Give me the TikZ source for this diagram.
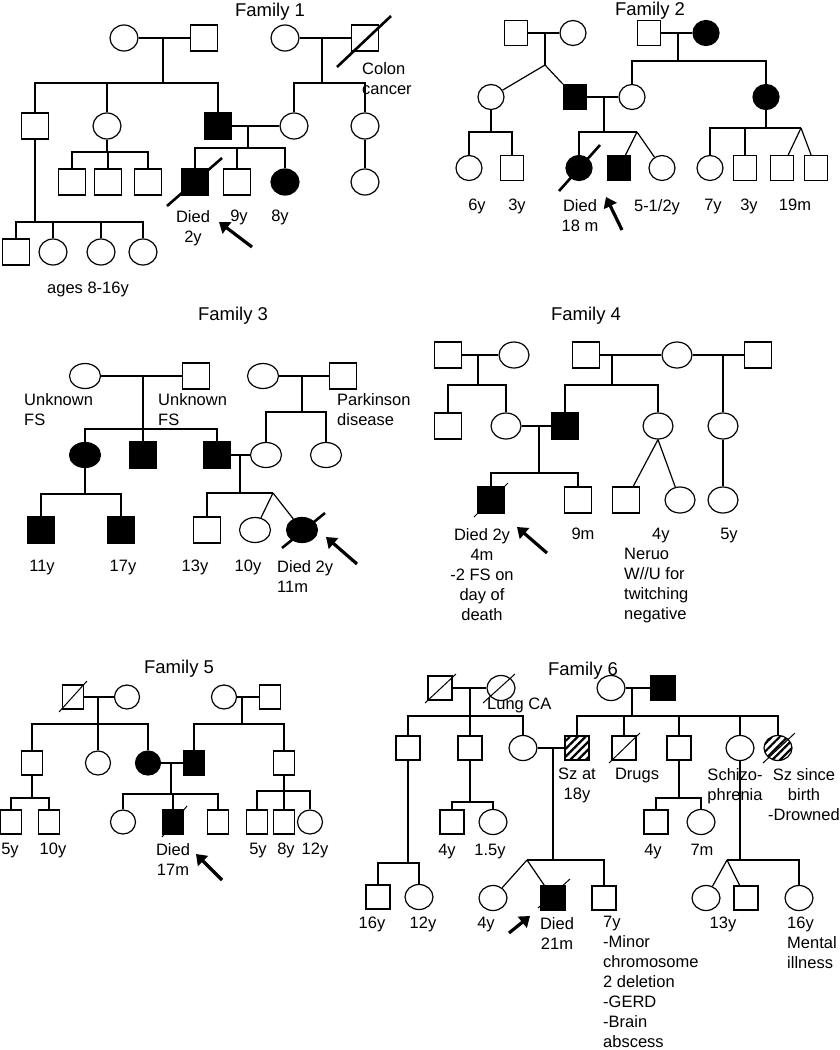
\documentclass[tikz,border=0pt]{standalone}
\usepackage{fontspec}
\setmainfont{Liberation Sans}
\usepackage{tikz}
\usetikzlibrary{shapes,calc,arrows.meta,patterns.meta}

\begin{document}
\begin{tikzpicture}[x=1pt, y=-1pt]
        \tikzstyle{male} = [shape=rectangle, draw, line width=1.2pt, inner sep=0pt, minimum width=27pt, minimum height=26pt]
        \tikzstyle{female} = [shape=ellipse, draw, line width=1.2pt, inner sep=0pt, minimum width=28pt, minimum height=26pt]
        \tikzstyle{aff} = [fill=black]
        \tikzstyle{hatch} = [pattern={Lines[angle=45, distance=5.5pt, line width=2.2pt]}]
        \tikzstyle{link} = [line width=1.2pt]
        \tikzstyle{dead} = [line width=2.6pt]
        \tikzstyle{deadthin} = [line width=1pt]
        \tikzstyle{arr} = [line width=3.2pt, -{Triangle[length=10pt, width=14pt]}]
        \tikzstyle{lbl} = [inner sep=0pt, anchor=north, align=center, font=\fontsize{16.5}{20}\selectfont]
        \tikzstyle{title} = [inner sep=0pt, anchor=north, font=\fontsize{18.5}{22}\selectfont]

        \useasboundingbox (0,0) rectangle (840,1050);

        % family 1
        \node [title, name=f1title] at (270,3) {Family 1};
        \node [female, name=f1a] at (124,38) {};
        \node [male, name=f1b] at (204,38) {};
        \node [female, name=f1c] at (285,38) {};
        \node [male, name=f1d] at (365,38) {};
        \node [male, name=f1e] at (35,126) {};
        \node [female, name=f1f] at (107,126) {};
        \node [male, aff, name=f1g] at (218,126) {};
        \node [female, name=f1h] at (294,126) {};
        \node [female, name=f1i] at (365,126) {};
        \node [male, name=f1k1] at (72,182) {};
        \node [male, name=f1k2] at (108,182) {};
        \node [male, name=f1k3] at (148,182) {};
        \node [male, aff, name=f1k4] at (195,182) {};
        \node [male, name=f1k5] at (237,182) {};
        \node [female, aff, name=f1k6] at (285,182) {};
        \node [female, name=f1k7] at (365,182) {};
        \node [male, name=f1m1] at (16,252) {};
        \node [female, name=f1m2] at (53,252) {};
        \node [female, name=f1m3] at (101,252) {};
        \node [female, name=f1m4] at (143,252) {};

        \coordinate (f1j1) at (163,38);
        \coordinate (f1s1) at (163,83);
        \coordinate (f1j2) at (322,38);
        \coordinate (f1s2) at (322,83);
        \coordinate (f1j3) at (248,126);
        \coordinate (f1s3) at (248,148);
        \coordinate (f1s4) at (107,152);
        \coordinate (f1s5) at (35,222);

        \draw [link] (f1a) -- (f1b);
        \draw [link] (f1c) -- (f1d);
        \draw [link] (f1g) -- (f1h);
        \draw [link] (f1j1) -- (f1s1);
        \draw [link] (f1e) |- (f1s1);
        \draw [link] (f1f) |- (f1s1);
        \draw [link] (f1g) |- (f1s1);
        \draw [link] (f1j2) -- (f1s2);
        \draw [link] (f1h) |- (f1s2);
        \draw [link] (f1i) |- (f1s2);
        \draw [link] (f1j3) -- (f1s3);
        \draw [link] (f1k4) |- (f1s3);
        \draw [link] (f1k5) |- (f1s3);
        \draw [link] (f1k6) |- (f1s3);
        \draw [link] (f1f) -- (f1s4);
        \draw [link] (f1k1) |- (f1s4);
        \draw [link] (f1k2) |- (f1s4);
        \draw [link] (f1k3) |- (f1s4);
        \draw [link] (f1i) -- (f1k7);
        \draw [link] (f1e) -- (f1s5);
        \draw [link] (f1m1) |- (f1s5);
        \draw [link] (f1m2) |- (f1s5);
        \draw [link] (f1m3) |- (f1s5);
        \draw [link] (f1m4) |- (f1s5);
        \draw [dead] ($(f1d)+(-28,29)$) -- ($(f1d)+(26,-22)$);
        \draw [dead] ($(f1k4)+(-28,24)$) -- ($(f1k4)+(27,-24)$);
        \draw [arr] (252,247) -- (219,222);

        \node [lbl, anchor=north west, align=left, name=f1l1] at (362,62) {Colon\\cancer};
        \node [lbl, name=f1l2] at (193,210) {Died\\2y};
        \node [lbl, name=f1l3] at (239,210) {9y};
        \node [lbl, name=f1l4] at (280,210) {8y};
        \node [lbl, name=f1l5] at (88,282) {ages 8-16y};

        % family 2
        \begin{scope}[male/.append style={minimum width=23pt, minimum height=25pt}, female/.append style={minimum width=26pt, minimum height=25pt}]
        \node [title, name=f2title] at (650,2) {Family 2};
        \node [male, name=f2a] at (516,33) {};
        \node [female, name=f2b] at (573,33) {};
        \node [male, name=f2c] at (649,33) {};
        \node [female, aff, name=f2d] at (706,33) {};
        \node [female, name=f2e] at (491,97) {};
        \node [male, aff, name=f2f] at (575,97) {};
        \node [female, name=f2g] at (632,97) {};
        \node [female, aff, name=f2h] at (766,97) {};
        \node [female, name=f2k1] at (469,168) {};
        \node [male, name=f2k2] at (512,168) {};
        \node [female, aff, name=f2k3] at (579,168) {};
        \node [male, aff, name=f2k4] at (619,168) {};
        \node [female, name=f2k5] at (662,168) {};
        \node [female, name=f2k6] at (710,168) {};
        \node [male, name=f2k7] at (745,168) {};
        \node [male, name=f2k8] at (782,168) {};
        \node [male, name=f2k9] at (816,168) {};
        \end{scope}

        \coordinate (f2j1) at (545,33);
        \coordinate (f2t1) at (545,65);
        \coordinate (f2j2) at (678,33);
        \coordinate (f2s2) at (678,61);
        \coordinate (f2j3) at (604,97);
        \coordinate (f2s3) at (604,132);
        \coordinate (f2t3) at (637,132);
        \coordinate (f2s4) at (491,132);
        \coordinate (f2s5) at (766,128);
        \coordinate (f2t5) at (801,128);

        \draw [link] (f2a) -- (f2b);
        \draw [link] (f2c) -- (f2d);
        \draw [link] (f2f) -- (f2g);
        \draw [link] (f2j1) -- (f2t1);
        \draw [link] (f2t1) -- (f2e);
        \draw [link] (f2t1) -- (f2f);
        \draw [link] (f2j2) -- (f2s2);
        \draw [link] (f2g) |- (f2s2);
        \draw [link] (f2h) |- (f2s2);
        \draw [link] (f2j3) -- (f2s3);
        \draw [link] (f2k3) |- (f2s3);
        \draw [link] (f2s3) -- (f2t3);
        \draw [link] (f2t3) -- (f2k4);
        \draw [link] (f2t3) -- (f2k5);
        \draw [link] (f2e) -- (f2s4);
        \draw [link] (f2k1) |- (f2s4);
        \draw [link] (f2k2) |- (f2s4);
        \draw [link] (f2h) -- (f2s5);
        \draw [link] (f2k6) |- (f2s5);
        \draw [link] (f2k7) |- (f2s5);
        \draw [link] (f2s5) -- (f2t5);
        \draw [link] (f2t5) -- (f2k8);
        \draw [link] (f2t5) -- (f2k9);
        \draw [dead] ($(f2k3)+(-20,23)$) -- ($(f2k3)+(21,-23)$);
        \draw [arr] (622,230) -- (606,197);

        \node [lbl, name=f2l1] at (477,199) {6y};
        \node [lbl, name=f2l2] at (517,199) {3y};
        \node [lbl, name=f2l3] at (580,199) {Died\\18 m};
        \node [lbl, name=f2l4] at (657,199) {5-1/2y};
        \node [lbl, name=f2l5] at (713,199) {7y};
        \node [lbl, name=f2l6] at (749,199) {3y};
        \node [lbl, name=f2l7] at (795,199) {19m};

        % family 3
        \begin{scope}[female/.append style={minimum width=31pt, minimum height=25pt}]
        \node [title, name=f3title] at (233,307) {Family 3};
        \node [female, name=f3a] at (85,376) {};
        \node [male, name=f3b] at (196,376) {};
        \node [female, name=f3c] at (263,376) {};
        \node [male, name=f3d] at (343,376) {};
        \node [female, aff, name=f3e] at (85,455) {};
        \node [male, aff, name=f3f] at (143,455) {};
        \node [male, aff, name=f3g] at (217,455) {};
        \node [female, name=f3h] at (266,455) {};
        \node [female, name=f3i] at (326,455) {};
        \node [male, aff, name=f3k1] at (41,530) {};
        \node [male, aff, name=f3k2] at (121,530) {};
        \node [male, name=f3k3] at (207,530) {};
        \node [female, name=f3k4] at (255,530) {};
        \node [female, aff, name=f3k5] at (302,530) {};
        \end{scope}

        \coordinate (f3j1) at (143,376);
        \coordinate (f3s1) at (143,429);
        \coordinate (f3j2) at (302,376);
        \coordinate (f3s2) at (302,412);
        \coordinate (f3j3) at (240,455);
        \coordinate (f3s3) at (240,493);
        \coordinate (f3t3) at (273,493);
        \coordinate (f3s4) at (85,494);

        \draw [link] (f3a) -- (f3b);
        \draw [link] (f3c) -- (f3d);
        \draw [link] (f3g) -- (f3h);
        \draw [link] (f3j1) -- (f3s1);
        \draw [link] (f3e) |- (f3s1);
        \draw [link] (f3f) |- (f3s1);
        \draw [link] (f3g) |- (f3s1);
        \draw [link] (f3j2) -- (f3s2);
        \draw [link] (f3h) |- (f3s2);
        \draw [link] (f3i) |- (f3s2);
        \draw [link] (f3j3) -- (f3s3);
        \draw [link] (f3k3) |- (f3s3);
        \draw [link] (f3s3) -- (f3t3);
        \draw [link] (f3t3) -- (f3k4);
        \draw [link] (f3t3) -- (f3k5);
        \draw [link] (f3e) -- (f3s4);
        \draw [link] (f3k1) |- (f3s4);
        \draw [link] (f3k2) |- (f3s4);
        \draw [dead] ($(f3k5)+(-20,18)$) -- ($(f3k5)+(23,-17)$);
        \draw [arr] (357,564) -- (326,537);

        \node [lbl, anchor=north west, align=left, name=f3l1] at (24,393) {Unknown\\FS};
        \node [lbl, anchor=north west, align=left, name=f3l2] at (158,393) {Unknown\\FS};
        \node [lbl, anchor=north west, align=left, name=f3l3] at (337,393) {Parkinson\\disease};
        \node [lbl, name=f3l4] at (42,560) {11y};
        \node [lbl, name=f3l5] at (123,560) {17y};
        \node [lbl, name=f3l6] at (195,560) {13y};
        \node [lbl, name=f3l7] at (248,560) {10y};
        \node [lbl, anchor=north west, align=left, name=f3l8] at (277,560) {Died 2y\\11m};

        % family 4
        \begin{scope}[female/.append style={minimum width=30pt}]
        \node [title, name=f4title] at (586,307) {Family 4};
        \node [male, name=f4a] at (448,355) {};
        \node [female, name=f4b] at (514,355) {};
        \node [male, name=f4c] at (586,355) {};
        \node [female, name=f4d] at (677,355) {};
        \node [male, name=f4e] at (758,355) {};
        \node [male, name=f4f] at (448,426) {};
        \node [female, name=f4g] at (506,426) {};
        \node [male, aff, name=f4h] at (565,426) {};
        \node [female, name=f4i] at (658,426) {};
        \node [female, name=f4k] at (723,426) {};
        \node [male, aff, name=f4m1] at (491,500) {};
        \node [male, name=f4m2] at (578,500) {};
        \node [male, name=f4m3] at (626,500) {};
        \node [female, name=f4m4] at (680,500) {};
        \node [female, name=f4m5] at (723,500) {};
        \end{scope}

        \coordinate (f4j1) at (478,355);
        \coordinate (f4s1) at (478,385);
        \coordinate (f4j2) at (612,355);
        \coordinate (f4s2) at (612,385);
        \coordinate (f4j3) at (723,355);
        \coordinate (f4j4) at (539,426);
        \coordinate (f4s4) at (539,473);

        \draw [link] (f4a) -- (f4b);
        \draw [link] (f4c) -- (f4d);
        \draw [link] (f4d) -- (f4e);
        \draw [link] (f4g) -- (f4h);
        \draw [link] (f4j1) -- (f4s1);
        \draw [link] (f4f) |- (f4s1);
        \draw [link] (f4g) |- (f4s1);
        \draw [link] (f4j2) -- (f4s2);
        \draw [link] (f4h) |- (f4s2);
        \draw [link] (f4i) |- (f4s2);
        \draw [link] (f4j3) -- (f4k);
        \draw [link] (f4j4) -- (f4s4);
        \draw [link] (f4m1) |- (f4s4);
        \draw [link] (f4m2) |- (f4s4);
        \draw [link] (f4i.south) -- (f4m3);
        \draw [link] (f4i.south) -- (f4m4);
        \draw [link] (f4k) -- (f4m5);
        \draw [deadthin] ($(f4m1)+(-17,17)$) -- ($(f4m1)+(17,-17)$);
        \draw [arr] (547,553) -- (517,527);

        \node [lbl, name=f4l1] at (482,528) {Died 2y\\4m\\-2 FS on\\day of\\death};
        \node [lbl, name=f4l2] at (583,528) {9m};
        \node [lbl, anchor=north west, align=left, name=f4l3] at (624,528) {\hspace*{28pt}4y\\Neruo\\W//U for\\twitching\\negative};
        \node [lbl, name=f4l4] at (729,528) {5y};

        % family 5
        \begin{scope}[male/.append style={minimum width=21pt, minimum height=24pt}, female/.append style={minimum width=25pt, minimum height=24pt}]
        \node [title, name=f5title] at (179,660) {Family 5};
        \node [male, name=f5a] at (73,697) {};
        \node [female, name=f5b] at (127,697) {};
        \node [female, name=f5c] at (224,697) {};
        \node [male, name=f5d] at (270,697) {};
        \node [male, name=f5e] at (32,763) {};
        \node [female, name=f5f] at (98,763) {};
        \node [female, aff, name=f5g] at (148,763) {};
        \node [male, aff, name=f5h] at (194,763) {};
        \node [male, name=f5i] at (284,763) {};
        \node [male, name=f5k1] at (11,822) {};
        \node [male, name=f5k2] at (49,822) {};
        \node [female, name=f5k3] at (123,822) {};
        \node [male, aff, name=f5k4] at (173,822) {};
        \node [male, name=f5k5] at (218,822) {};
        \node [male, name=f5k6] at (257,822) {};
        \node [male, name=f5k7] at (284,822) {};
        \node [female, name=f5k8] at (310,822) {};
        \end{scope}

        \coordinate (f5j1) at (98,697);
        \coordinate (f5s1) at (98,724);
        \coordinate (f5j2) at (242,697);
        \coordinate (f5s2) at (242,724);
        \coordinate (f5j3) at (171,763);
        \coordinate (f5s3) at (171,794);
        \coordinate (f5s4) at (32,798);
        \coordinate (f5s5) at (284,791);

        \draw [link] (f5a) -- (f5b);
        \draw [link] (f5c) -- (f5d);
        \draw [link] (f5g) -- (f5h);
        \draw [link] (f5j1) -- (f5s1);
        \draw [link] (f5e) |- (f5s1);
        \draw [link] (f5f) |- (f5s1);
        \draw [link] (f5g) |- (f5s1);
        \draw [link] (f5j2) -- (f5s2);
        \draw [link] (f5h) |- (f5s2);
        \draw [link] (f5i) |- (f5s2);
        \draw [link] (f5j3) -- (f5s3);
        \draw [link] (f5k3) |- (f5s3);
        \draw [link] (f5k4) |- (f5s3);
        \draw [link] (f5k5) |- (f5s3);
        \draw [link] (f5e) -- (f5s4);
        \draw [link] (f5k1) |- (f5s4);
        \draw [link] (f5k2) |- (f5s4);
        \draw [link] (f5i) -- (f5s5);
        \draw [link] (f5k6) |- (f5s5);
        \draw [link] (f5k7) |- (f5s5);
        \draw [link] (f5k8) |- (f5s5);
        \draw [deadthin] ($(f5a)+(-14,15)$) -- ($(f5a)+(14,-16)$);
        \draw [deadthin] ($(f5k4)+(-11,15)$) -- ($(f5k4)+(14,-16)$);
        \draw [arr] (222,880) -- (196,854);

        \node [lbl, name=f5l1] at (10,843) {5y};
        \node [lbl, name=f5l2] at (53,843) {10y};
        \node [lbl, name=f5l3] at (173,843) {Died\\17m};
        \node [lbl, name=f5l4] at (258,843) {5y};
        \node [lbl, name=f5l5] at (286,843) {8y};
        \node [lbl, name=f5l6] at (315,843) {12y};

        % family 6
        \begin{scope}[male/.append style={minimum width=24pt, minimum height=24pt}, female/.append style={minimum width=28pt, minimum height=25pt}]
        \node [title, name=f6title] at (583,662) {Family 6};
        \node [male, name=f6a] at (440,688) {};
        \node [female, name=f6b] at (501,688) {};
        \node [female, name=f6c] at (611,688) {};
        \node [male, aff, name=f6d] at (663,688) {};
        \node [male, name=f6e] at (408,748) {};
        \node [male, name=f6f] at (470,748) {};
        \node [female, name=f6g] at (523,748) {};
        \node [male, hatch, name=f6h] at (577,748) {};
        \node [male, name=f6i] at (624,748) {};
        \node [male, name=f6k] at (679,748) {};
        \node [female, name=f6l] at (740,748) {};
        \node [female, hatch, name=f6m] at (778,748) {};
        \node [male, name=f6n1] at (452,822) {};
        \node [female, name=f6n2] at (493,822) {};
        \node [male, name=f6n3] at (656,822) {};
        \node [female, name=f6n4] at (701,822) {};
        \node [male, name=f6p1] at (378,897) {};
        \node [female, name=f6p2] at (419,897) {};
        \node [female, name=f6p3] at (493,898) {};
        \node [male, aff, name=f6p4] at (553,898) {};
        \node [male, name=f6p5] at (604,898) {};
        \node [female, name=f6p6] at (706,898) {};
        \node [male, name=f6p7] at (746,898) {};
        \node [female, name=f6p8] at (799,898) {};
        \end{scope}

        \coordinate (f6j1) at (470,688);
        \coordinate (f6s1) at (470,716);
        \coordinate (f6j2) at (632,688);
        \coordinate (f6s2) at (632,716);
        \coordinate (f6j3) at (553,748);
        \coordinate (f6s3) at (553,860);
        \coordinate (f6t3) at (527,860);
        \coordinate (f6s4) at (408,863);
        \coordinate (f6s5) at (470,802);
        \coordinate (f6s6) at (679,798);
        \coordinate (f6s7) at (740,860);
        \coordinate (f6t7) at (727,860);

        \draw [link] (f6a) -- (f6b);
        \draw [link] (f6c) -- (f6d);
        \draw [link] (f6g) -- (f6h);
        \draw [link] (f6j1) -- (f6s1);
        \draw [link] (f6e) |- (f6s1);
        \draw [link] (f6f) |- (f6s1);
        \draw [link] (f6g) |- (f6s1);
        \draw [link] (f6j2) -- (f6s2);
        \draw [link] (f6h) |- (f6s2);
        \draw [link] (f6i) |- (f6s2);
        \draw [link] (f6k) |- (f6s2);
        \draw [link] (f6l) |- (f6s2);
        \draw [link] (f6m) |- (f6s2);
        \draw [link] (f6j3) -- (f6s3);
        \draw [link] (f6p5) |- (f6t3);
        \draw [link] (f6t3) -- (f6p3);
        \draw [link] (f6t3) -- (f6p4);
        \draw [link] (f6e) -- (f6s4);
        \draw [link] (f6p1) |- (f6s4);
        \draw [link] (f6p2) |- (f6s4);
        \draw [link] (f6f) -- (f6s5);
        \draw [link] (f6n1) |- (f6s5);
        \draw [link] (f6n2) |- (f6s5);
        \draw [link] (f6k) -- (f6s6);
        \draw [link] (f6n3) |- (f6s6);
        \draw [link] (f6n4) |- (f6s6);
        \draw [link] (f6l) -- (f6s7);
        \draw [link] (f6p8) |- (f6t7);
        \draw [link] (f6t7) -- (f6p6);
        \draw [link] (f6t7) -- (f6p7);
        \draw [deadthin] ($(f6a)+(-15,15)$) -- ($(f6a)+(16,-14)$);
        \draw [deadthin] ($(f6b)+(-18,15)$) -- ($(f6b)+(14,-14)$);
        \draw [deadthin] ($(f6i)+(-15,15)$) -- ($(f6i)+(16,-15)$);
        \draw [deadthin] ($(f6m)+(-15,15)$) -- ($(f6m)+(17,-15)$);
        \draw [deadthin] ($(f6p4)+(-15,10)$) -- ($(f6p4)+(17,-19)$);
        \draw [arr] (509,933) -- (530,916);

        \node [lbl, anchor=north west, align=left, name=f6l1] at (487,698) {Lung CA};
        \node [lbl, name=f6l2] at (577,768) {Sz at\\18y};
        \node [lbl, name=f6l3] at (637,768) {Drugs};
        \node [lbl, name=f6l4] at (735,768) {Schizo-\\phrenia};
        \node [lbl, name=f6l5] at (804,768) {Sz since\\birth\\-Drowned};
        \node [lbl, name=f6l6] at (447,844) {4y};
        \node [lbl, name=f6l7] at (490,844) {1.5y};
        \node [lbl, name=f6l8] at (653,844) {4y};
        \node [lbl, name=f6l9] at (702,844) {7m};
        \node [lbl, name=f6l10] at (372,917) {16y};
        \node [lbl, name=f6l11] at (423,917) {12y};
        \node [lbl, name=f6l12] at (486,917) {4y};
        \node [lbl, name=f6l13] at (557,917) {Died\\21m};
        \node [lbl, anchor=north west, align=left, name=f6l14] at (603,916) {7y\\-Minor\\chromosome\\2 deletion\\-GERD\\-Brain\\abscess};
        \node [lbl, name=f6l15] at (723,917) {13y};
        \node [lbl, anchor=north west, align=left, name=f6l16] at (787,917) {16y\\Mental\\illness};

\end{tikzpicture}
\end{document}
